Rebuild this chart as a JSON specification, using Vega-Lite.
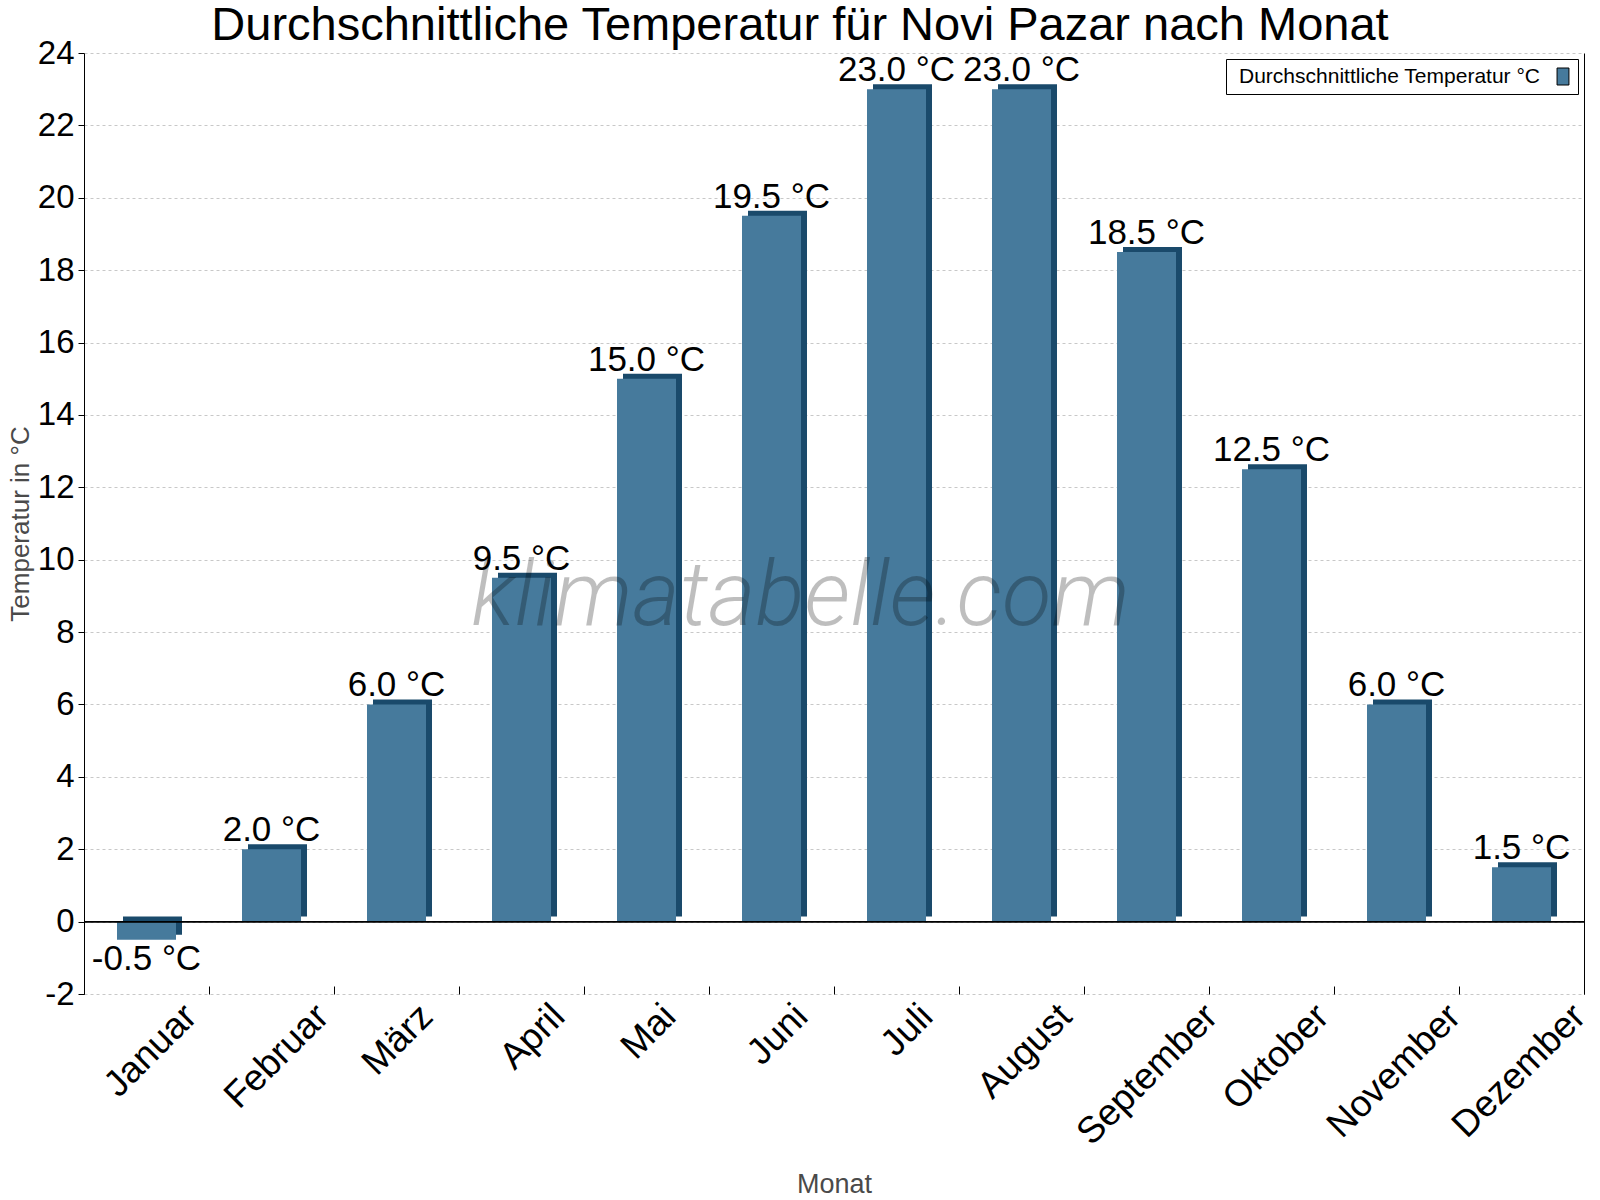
{
  "$schema": "https://vega.github.io/schema/vega-lite/v6.json",
  "width": 1500,
  "height": 941,
  "autosize": {"type": "none"},
  "padding": {"left": 84, "top": 53, "right": 16, "bottom": 206},
  "title": {
    "text": "Durchschnittliche Temperatur für Novi Pazar nach Monat",
    "font": "Liberation Sans",
    "fontSize": 47,
    "fontWeight": "normal",
    "color": "#000000",
    "anchor": "middle",
    "dx": -34,
    "offset": -13
  },
  "data": {
    "values": [
      {"Monat": "Januar", "Temperatur": -0.5, "Label": "-0.5 °C"},
      {"Monat": "Februar", "Temperatur": 2.0, "Label": "2.0 °C"},
      {"Monat": "März", "Temperatur": 6.0, "Label": "6.0 °C"},
      {"Monat": "April", "Temperatur": 9.5, "Label": "9.5 °C"},
      {"Monat": "Mai", "Temperatur": 15.0, "Label": "15.0 °C"},
      {"Monat": "Juni", "Temperatur": 19.5, "Label": "19.5 °C"},
      {"Monat": "Juli", "Temperatur": 23.0, "Label": "23.0 °C"},
      {"Monat": "August", "Temperatur": 23.0, "Label": "23.0 °C"},
      {"Monat": "September", "Temperatur": 18.5, "Label": "18.5 °C"},
      {"Monat": "Oktober", "Temperatur": 12.5, "Label": "12.5 °C"},
      {"Monat": "November", "Temperatur": 6.0, "Label": "6.0 °C"},
      {"Monat": "Dezember", "Temperatur": 1.5, "Label": "1.5 °C"}
    ]
  },
  "encoding": {
    "x": {
      "field": "Monat",
      "type": "nominal",
      "sort": null,
      "scale": {"paddingInner": 0, "paddingOuter": 0},
      "axis": {
        "title": "Monat",
        "titleFont": "Liberation Sans",
        "titleFontSize": 27,
        "titleFontWeight": "normal",
        "titleColor": "#4a4a4a",
        "titlePadding": 177,
        "domain": false,
        "grid": false,
        "labels": false,
        "ticks": true,
        "tickBand": "extent",
        "tickSize": -8,
        "tickColor": "#000000"
      }
    },
    "y": {
      "field": "Temperatur",
      "type": "quantitative",
      "scale": {"domain": [-2, 24], "nice": false},
      "axis": null
    }
  },
  "layer": [
    {
      "mark": {"type": "bar", "color": "#1a4a6b", "width": {"band": 0.472}, "xOffset": 6, "yOffset": -5},
      "encoding": {
        "y": {
          "field": "Temperatur",
          "type": "quantitative",
          "axis": {
            "orient": "left",
            "title": "Temperatur in °C",
            "titleFont": "Liberation Sans",
            "titleFontSize": 26,
            "titleFontWeight": "normal",
            "titleColor": "#4a4a4a",
            "titlePadding": 4,
            "values": [-2, 0, 2, 4, 6, 8, 10, 12, 14, 16, 18, 20, 22, 24],
            "labelExpr": "replace(datum.label, '−', '-')",
            "domainColor": "#000000",
            "tickColor": "#000000",
            "tickSize": 6,
            "labelFont": "Liberation Sans",
            "labelFontSize": 33,
            "labelColor": "#000000",
            "labelPadding": 4,
            "grid": true,
            "gridColor": "#c8c8c8",
            "gridDash": [3, 3]
          }
        }
      }
    },
    {
      "mark": {"type": "bar", "width": {"band": 0.472}},
      "encoding": {
        "y": {
          "field": "Temperatur",
          "type": "quantitative",
          "axis": {
            "orient": "right",
            "title": null,
            "labels": false,
            "ticks": false,
            "grid": false,
            "domain": true,
            "domainColor": "#000000"
          }
        },
        "color": {
          "datum": "Durchschnittliche Temperatur °C",
          "type": "nominal",
          "scale": {"range": ["#467a9c"]},
          "legend": {
            "title": null,
            "orient": "top-right",
            "offset": 6,
            "padding": 7,
            "strokeColor": "#000000",
            "fillColor": "#ffffff",
            "labelFont": "Liberation Sans",
            "labelFontSize": 21,
            "labelColor": "#000000",
            "labelLimit": 0,
            "symbolType": "M-0.7,-1H0.7V1H-0.7Z",
            "symbolSize": 289,
            "symbolStrokeColor": "#000000",
            "symbolStrokeWidth": 1,
            "symbolOpacity": 1,
            "encode": {
              "labels": {"update": {"x": {"value": 6}}},
              "symbols": {"update": {"x": {"value": 330}}}
            }
          }
        }
      }
    },
    {
      "mark": {"type": "rule", "color": "#000000", "strokeWidth": 1},
      "encoding": {
        "x": null,
        "y": {"datum": 0, "type": "quantitative", "axis": null}
      }
    },
    {
      "transform": [{"filter": "datum.Temperatur >= 0"}],
      "mark": {
        "type": "text",
        "font": "Liberation Sans",
        "fontSize": 35,
        "color": "#000000",
        "baseline": "alphabetic",
        "dy": -8
      },
      "encoding": {"text": {"field": "Label"}}
    },
    {
      "transform": [{"filter": "datum.Temperatur < 0"}],
      "mark": {
        "type": "text",
        "font": "Liberation Sans",
        "fontSize": 35,
        "color": "#000000",
        "baseline": "top",
        "dy": 2
      },
      "encoding": {"text": {"field": "Label"}}
    },
    {
      "mark": {
        "type": "text",
        "font": "Liberation Sans",
        "fontSize": 37,
        "color": "#000000",
        "angle": -45,
        "align": "right",
        "baseline": "top",
        "dx": {"expr": "4.9 * length(datum.Monat) - 10"},
        "dy": {"expr": "4.9 * length(datum.Monat) - 4"}
      },
      "encoding": {
        "y": {"datum": -2, "type": "quantitative", "axis": null},
        "text": {"field": "Monat"}
      }
    },
    {
      "transform": [{"filter": "datum.Monat == 'Juni'"}],
      "mark": {
        "type": "text",
        "font": "Roboto",
        "fontSize": 91,
        "fontStyle": "italic",
        "fontWeight": 300,
        "color": "#000000",
        "opacity": 0.25,
        "align": "center",
        "baseline": "alphabetic",
        "dx": 29
      },
      "encoding": {
        "y": {"datum": 8.2, "type": "quantitative", "axis": null},
        "text": {"value": "klimatabelle.com"}
      }
    }
  ],
  "resolve": {"axis": {"y": "independent"}},
  "config": {
    "view": {"stroke": null},
    "font": "Liberation Sans"
  }
}
